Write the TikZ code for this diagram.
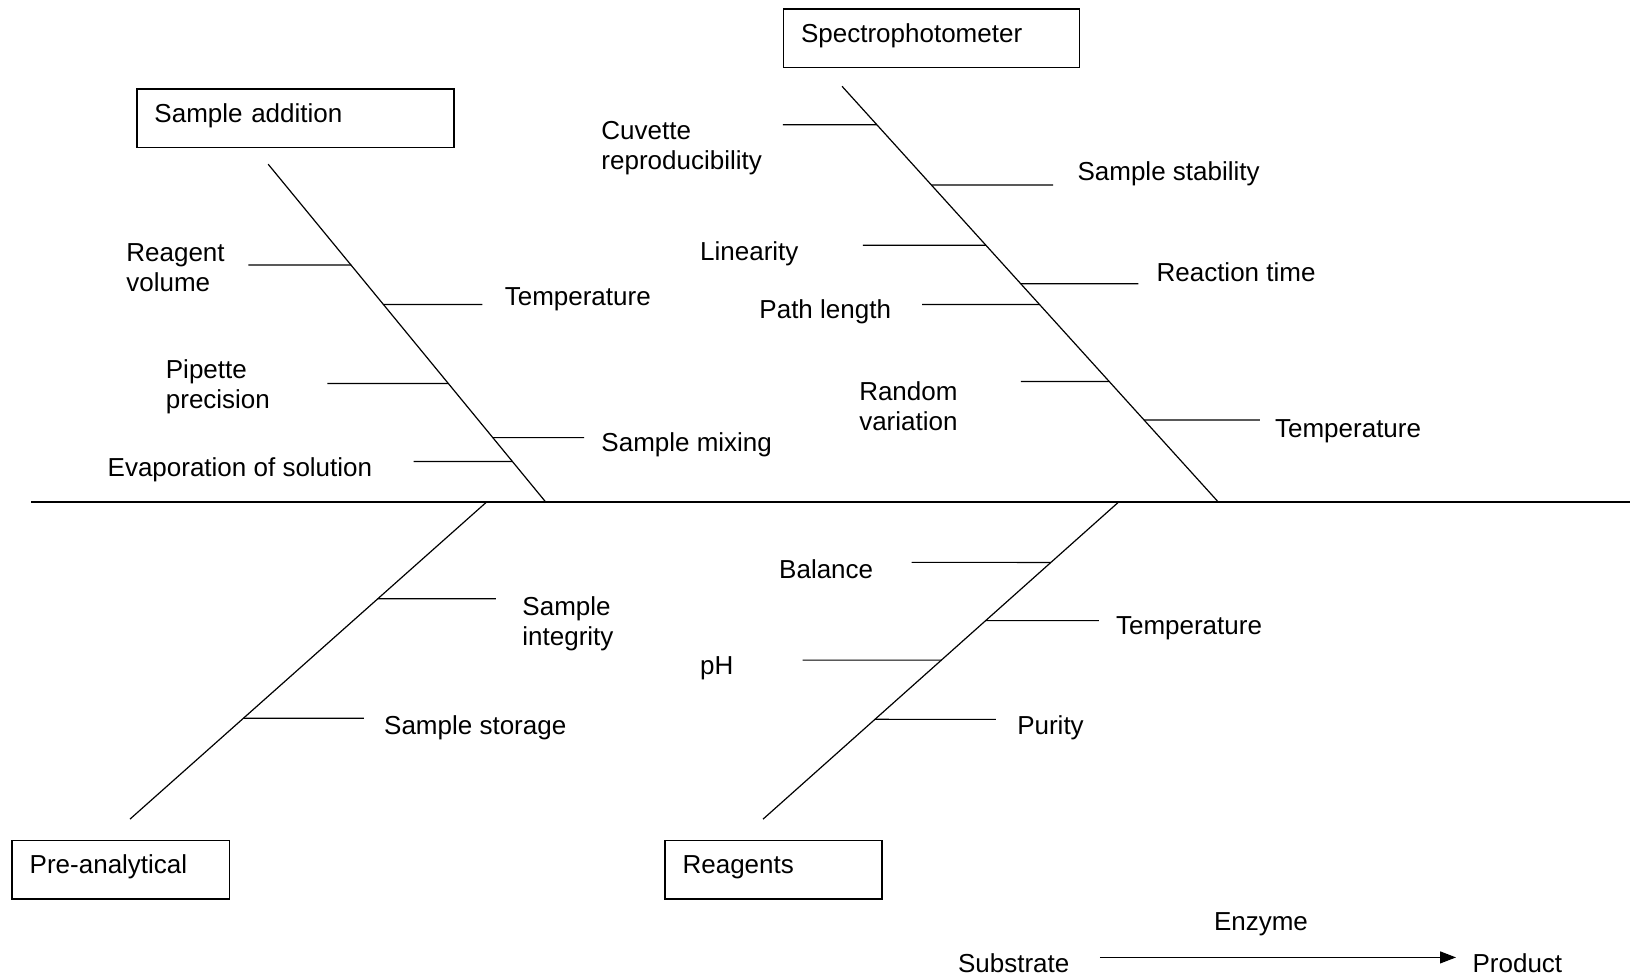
\documentclass[tikz,border=0pt]{standalone}
\usepackage{fontspec}
\setmainfont{Liberation Sans}
\usepackage{tikz}
\usetikzlibrary{calc, arrows.meta}

\tikzset{
  causebox/.style={draw, line width=0.7pt, anchor=north west, align=left,
    inner xsep=8.8pt, inner ysep=0pt, text height=16.6pt, text depth=12.5pt},
  lbl/.style={anchor=west, inner sep=0pt, align=left, yshift=-1.4pt}
}

\begin{document}
\begin{tikzpicture}[x=0.5198pt, y=-0.5198pt, font=\fontsize{13}{15}\selectfont, line width=0.6pt]
    \useasboundingbox (0,0) rectangle (1568,939);

    % Draw spine
    \coordinate (tail) at (30,483);
    \coordinate (head) at (1568,483);
    \draw (tail) -- (head);

    % Cause boxes
    \node[causebox, text width=140.9pt] (addbox) at (131,85) {Sample addition};
    \node[causebox, text width=130.5pt] (specbox) at (753,8) {Spectrophotometer};
    \node[causebox, text width=91pt] (prebox) at (11,808) {Pre-analytical};
    \node[causebox, text width=91pt] (reabox) at (639,808) {Reagents};

    % Draw bones
    \coordinate (a1) at (258,158);  \coordinate (a2) at (525,483);
    \coordinate (s1) at (810,83);   \coordinate (s2) at (1172,483);
    \coordinate (p1) at (468,483);  \coordinate (p2) at (125,788);
    \coordinate (r1) at (1076,483); \coordinate (r2) at (734,788);
    \draw (a1) -- (a2);
    \draw (s1) -- (s2);
    \draw (p1) -- (p2);
    \draw (r1) -- (r2);

    % Ribs: free end x / y / place on bone
    \foreach \n/\x/\y/\t in {1/239/255/0.2985, 2/464/293/0.4154, 3/315/369/0.6492, 4/562/421/0.8092, 5/398/444/0.8800} {
      \coordinate (ar\n) at (\x,\y);
      \draw (ar\n) -- ($(a1)!\t!(a2)$);
    }
    \foreach \n/\x/\y/\t in {1/753/120/0.0925, 2/1013/178/0.2375, 3/830/236/0.3825, 4/1095/273/0.475, 5/887/293/0.525, 6/982/367/0.71, 7/1212/404/0.8025} {
      \coordinate (sr\n) at (\x,\y);
      \draw (sr\n) -- ($(s1)!\t!(s2)$);
    }
    \foreach \n/\x/\y/\t in {1/477/576/0.3049, 2/350/691/0.6820} {
      \coordinate (pr\n) at (\x,\y);
      \draw (pr\n) -- ($(p1)!\t!(p2)$);
    }
    \foreach \n/\x/\y/\t in {1/877/541/0.1902, 2/1057/597/0.3738, 3/772/635/0.4984, 4/958/692/0.6852} {
      \coordinate (rr\n) at (\x,\y);
      \draw (rr\n) -- ($(r1)!\t!(r2)$);
    }

    % Labels of the ribs
    \foreach \n/\x/\y/\txt in {1/121/254.5/{Reagent\\volume}, 2/485/285/Temperature, 3/159/369/{Pipette\\precision}, 4/578/425/Sample mixing, 5/103/449/Evaporation of solution} {
      \node[lbl] (al\n) at (\x,\y) {\txt};
    }
    \foreach \n/\x/\y/\txt in {1/578/140/{Cuvette\\reproducibility}, 2/1036/164/Sample stability, 3/673/241/Linearity, 4/1112/259/Reaction time, 5/730/297/Path length, 6/826/388/{Random\\variation}, 7/1226/412/Temperature} {
      \node[lbl] (sl\n) at (\x,\y) {\txt};
    }
    \foreach \n/\x/\y/\txt in {1/502/597.5/{Sample\\integrity}, 2/369/697/Sample storage} {
      \node[lbl] (pl\n) at (\x,\y) {\txt};
    }
    \foreach \n/\x/\y/\txt in {1/749/545/Balance, 2/1073/602/Temperature, 3/673/640/pH, 4/978/697/Purity} {
      \node[lbl] (rl\n) at (\x,\y) {\txt};
    }

    % Reaction
    \node[lbl] (sub) at (921,923.5) {Substrate};
    \node[lbl] (prod) at (1416,923.5) {Product};
    \node[inner sep=0pt] (enz) at (1213,889) {Enzyme};
    \draw[-{Triangle[length=8pt, width=6pt]}, shorten <=15pt, shorten >=8pt]
      ([yshift=2.7pt]sub.east) -- ([yshift=2.7pt]prod.west);
  \end{tikzpicture}
\end{document}
